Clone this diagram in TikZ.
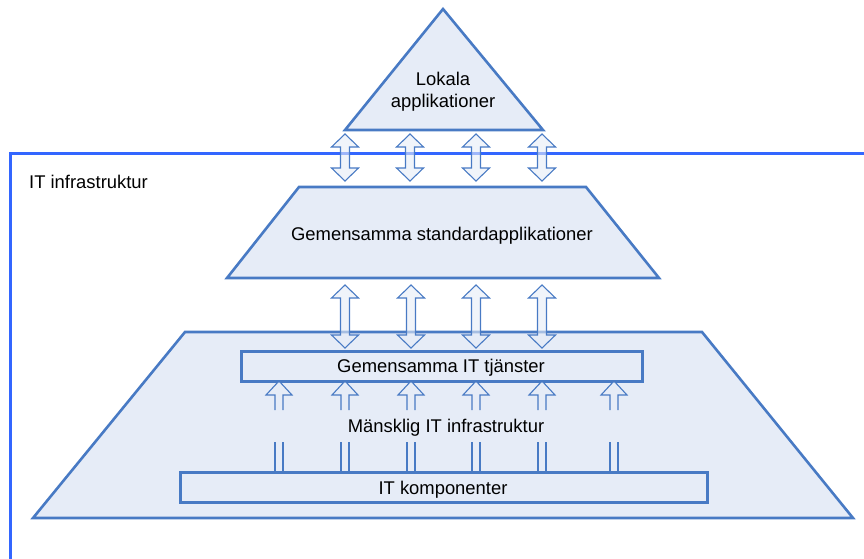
\documentclass[tikz,border=0pt]{standalone}
\usepackage{fontspec}
\setmainfont{Liberation Sans}
\definecolor{frameblue}{RGB}{51,102,255}
\definecolor{shapeline}{RGB}{72,122,196}
\definecolor{shapefill}{RGB}{230,236,247}

% double-headed hollow arrow: centre x, top tip y, bottom tip y
\newcommand\dblarrowshape[3]{%
  \draw[arrowshape] (#1,#2) -- (#1+13.5,#2+13) -- (#1+4.5,#2+13)
    -- (#1+4.5,#3-13) -- (#1+13.5,#3-13) -- (#1,#3) -- (#1-13.5,#3-13)
    -- (#1-4.5,#3-13) -- (#1-4.5,#2+13) -- (#1-13.5,#2+13) -- cycle;}
% upward hollow arrow, split by the middle label
\newcommand\uparrowshape[1]{%
  \draw[arrowshape] (#1-4,410) -- (#1-4,395) -- (#1-13,395) -- (#1,381)
    -- (#1+13,395) -- (#1+4,395) -- (#1+4,410);
  \draw[arrowline] (#1-4,442) -- (#1-4,472) (#1+4,442) -- (#1+4,472);}

\begin{document}
\begin{tikzpicture}[x=1pt,y=-1pt,
  every node/.style={font=\fontsize{18.4pt}{22pt}\selectfont, inner sep=0pt},
  layer/.style={draw=shapeline, fill=shapefill, line width=2.6pt, line join=miter},
  compbox/.style={draw=shapeline, fill=shapefill, line width=3pt},
  arrowshape/.style={draw=shapeline, fill=shapefill, fill opacity=0.6, line width=1.1pt, line join=miter},
  arrowline/.style={draw=shapeline, line width=1.1pt},
  frameline/.style={draw=frameblue, line width=3pt}]
\useasboundingbox (0,0) rectangle (864,558);
\clip (0,0) rectangle (864,558);

% outer infrastructure frame
\draw[frameline] (870,153) -- (10,153) -- (10,570);
\node[anchor=base west] (infra) at (29,188) {IT infrastruktur};

% top: local applications
\draw[layer] (443,9) -- (543,130) -- (345,130) -- cycle;
\node[align=center] (local) at (443,92) {Lokala\\applikationer};

% middle: common standard applications
\draw[layer] (299,187) -- (586,187) -- (659,278) -- (227,278) -- cycle;
\node[anchor=base] (std) at (442,240) {Gemensamma standardapplikationer};

% bottom: common IT services and human infrastructure
\draw[layer] (185,332) -- (702,332) -- (853,518) -- (33,518) -- cycle;
\draw[compbox] (241,351) rectangle (642,381);
\node[anchor=base] (services) at (441,372) {Gemensamma IT tjänster};
\node[anchor=base] (human) at (446,432) {Mänsklig IT infrastruktur};
\draw[compbox] (180,472) rectangle (707,502);
\node[anchor=base] (comp) at (443,494) {IT komponenter};

% arrows between the layers
\foreach \x in {345,410,476,542} {\dblarrowshape{\x}{134}{181}}
\foreach \x in {345,411,476,542} {\dblarrowshape{\x}{285}{348}}
\foreach \x in {279,345,411,476,542,614} {\uparrowshape{\x}}
\end{tikzpicture}
\end{document}
